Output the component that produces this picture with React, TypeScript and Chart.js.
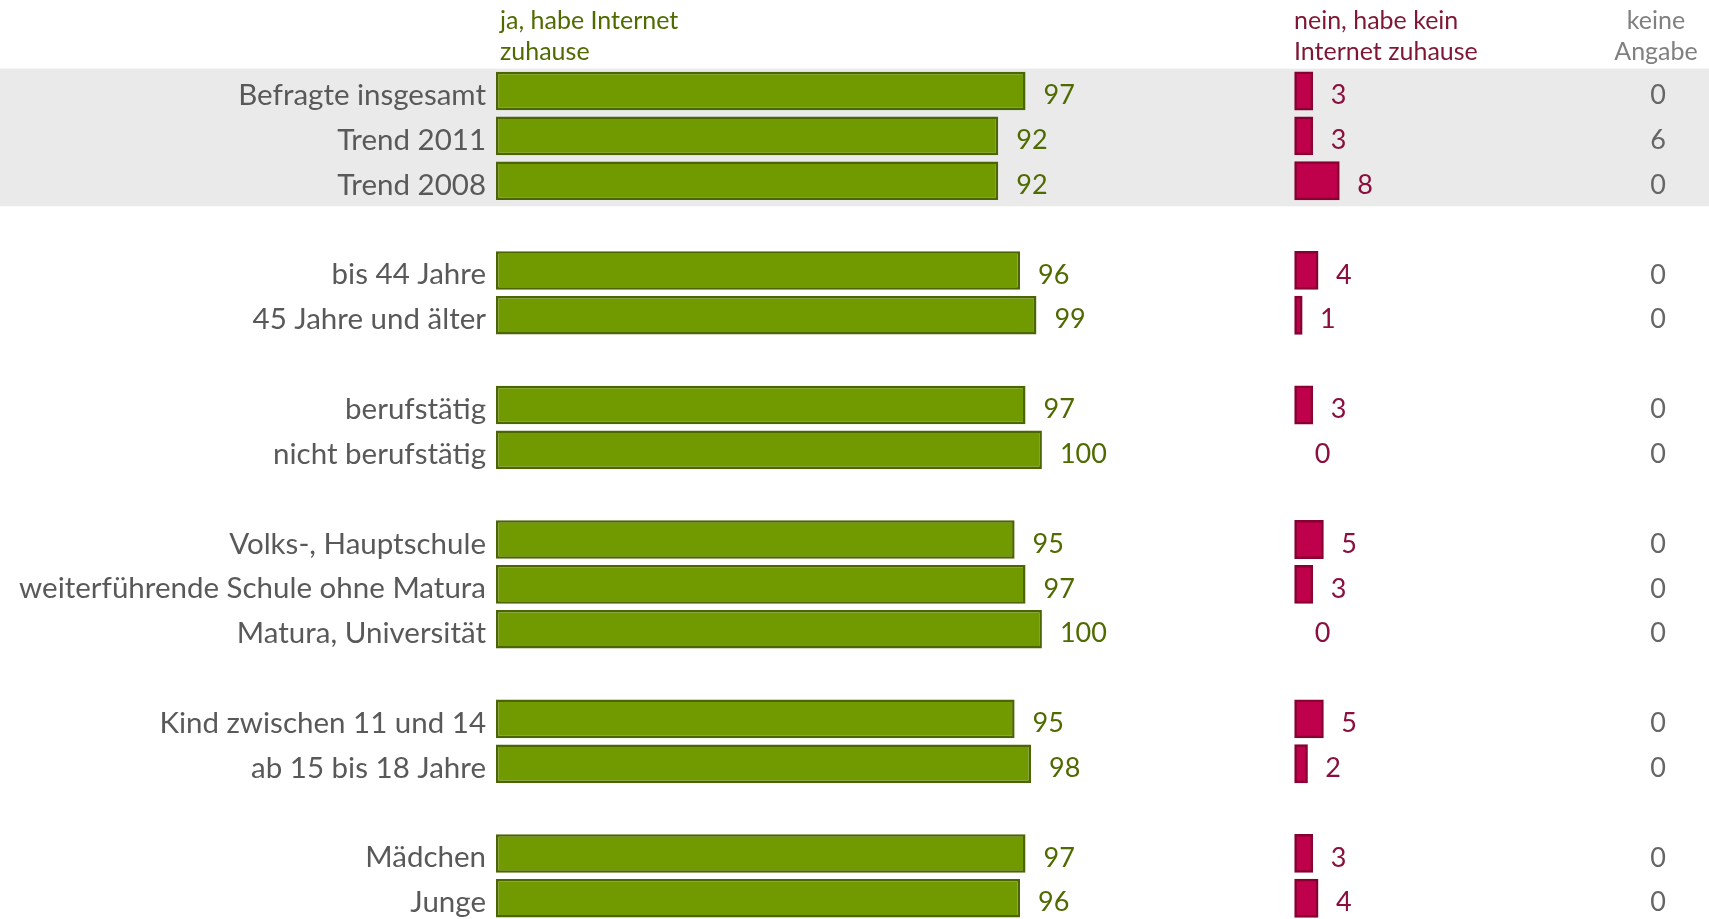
import React, { useEffect, useRef } from 'react';
import { Chart, registerables } from 'chart.js';

Chart.register(...registerables);

const categories = [
  'Befragte insgesamt', 'Trend 2011', 'Trend 2008', '',
  'bis 44 Jahre', '45 Jahre und älter', '',
  'berufstätig', 'nicht berufstätig', '',
  'Volks-, Hauptschule', 'weiterführende Schule ohne Matura', 'Matura, Universität', '',
  'Kind zwischen 11 und 14', 'ab 15 bis 18 Jahre', '',
  'Mädchen', 'Junge',
];
const jaValues = [97, 92, 92, null, 96, 99, null, 97, 100, null, 95, 97, 100, null, 95, 98, null, 97, 96];
const neinValues = [3, 3, 8, null, 4, 1, null, 3, 0, null, 5, 3, 0, null, 5, 2, null, 3, 4];
const keineValues = [0, 6, 0, null, 0, 0, null, 0, 0, null, 0, 0, 0, null, 0, 0, null, 0, 0];

const headerJa = ['ja, habe Internet', 'zuhause'];
const headerNein = ['nein, habe kein', 'Internet zuhause'];
const headerKeine = ['keine', 'Angabe'];

const FONT = 'Lato, "Open Sans", sans-serif';

export default function App() {
  const ref = useRef<HTMLCanvasElement>(null);

  useEffect(() => {
    document.body.style.margin = '0';
    const canvas = ref.current;
    if (!canvas) return;

    const bandPlugin = {
      id: 'band',
      beforeDraw(chart: any) {
        const { ctx } = chart;
        const y = chart.scales.y;
        const top = y.getPixelForValue(-0.5);
        const bottom = y.getPixelForValue(2.57);
        ctx.save();
        ctx.fillStyle = '#EAEAEA';
        ctx.fillRect(0, top, chart.width, bottom - top);
        ctx.restore();
      },
    };

    const labelPlugin = {
      id: 'labels',
      afterDatasetsDraw(chart: any) {
        const { ctx } = chart;
        const y = chart.scales.y;
        ctx.save();
        ctx.font = `27px ${FONT}`;
        ctx.textBaseline = 'middle';
        ctx.textAlign = 'left';
        const m0 = chart.getDatasetMeta(0);
        m0.data.forEach((bar: any, i: number) => {
          const v = jaValues[i];
          if (v === null) return;
          ctx.fillStyle = '#4F6B00';
          ctx.fillText(String(v), bar.x + 18, bar.y + 4.5);
        });
        const m1 = chart.getDatasetMeta(1);
        m1.data.forEach((bar: any, i: number) => {
          const v = neinValues[i];
          if (v === null) return;
          ctx.fillStyle = '#8A0F3F';
          ctx.fillText(String(v), bar.x + 19, bar.y + 4.5);
        });
        ctx.textAlign = 'center';
        ctx.fillStyle = '#666666';
        keineValues.forEach((v, i) => {
          if (v === null) return;
          ctx.fillText(String(v), 1658, y.getPixelForValue(i) + 4.5);
        });

        // headers
        ctx.font = `25px ${FONT}`;
        ctx.textAlign = 'left';
        ctx.fillStyle = '#4F6B00';
        headerJa.forEach((t, k) => ctx.fillText(t, 500, 21 + k * 31));
        ctx.fillStyle = '#7F1734';
        headerNein.forEach((t, k) => ctx.fillText(t, 1294, 21 + k * 31));
        ctx.textAlign = 'center';
        ctx.fillStyle = '#808080';
        headerKeine.forEach((t, k) => ctx.fillText(t, 1656, 21 + k * 31));
        ctx.restore();
      },
    };

    const chart = new Chart(canvas, {
      type: 'bar',
      data: {
        labels: categories,
        datasets: [
          {
            label: 'ja, habe Internet zuhause',
            data: jaValues,
            xAxisID: 'x',
            backgroundColor: '#709A00',
            borderColor: '#4B6500',
            borderWidth: 2.5,
            borderSkipped: false,
            inflateAmount: 0,
            grouped: false,
            categoryPercentage: 1,
            barPercentage: 0.86,
          } as any,
          {
            label: 'nein, habe kein Internet zuhause',
            data: neinValues,
            xAxisID: 'x2',
            backgroundColor: '#BF004B',
            borderColor: '#860032',
            borderWidth: (c: any) => (c.raw ? 2.5 : 0),
            borderSkipped: false,
            inflateAmount: (c: any) => (c.raw ? 1.5 : 0),
            grouped: false,
            categoryPercentage: 1,
            barPercentage: 0.8,
          } as any,
        ],
      },
      options: {
        indexAxis: 'y',
        responsive: false,
        animation: false,
        layout: { padding: { top: 68.6, bottom: 1.3, left: 0, right: 0 } },
        plugins: {
          legend: { display: false },
          tooltip: { enabled: false },
        },
        scales: {
          x: { display: false, min: 0, max: 222.2 },
          x2: { display: false, min: -150.9, max: 77.97 },
          y: {
            grid: { display: false, drawTicks: false },
            border: { display: false },
            ticks: {
              color: '#595959',
              font: { family: FONT, size: 29.5 },
              padding: 10,
              labelOffset: 4.5,
              autoSkip: false,
            },
            afterFit(scale: any) {
              scale.width = 496;
              scale.paddingTop = 0;
              scale.paddingBottom = 0;
            },
          },
        },
      },
      plugins: [bandPlugin, labelPlugin],
    });

    return () => chart.destroy();
  }, []);

  return (
    <div style={{ position: 'absolute', left: 0, top: 0, width: 1709, height: 919, overflow: 'hidden' }}>
      <canvas ref={ref} width={1709} height={922} style={{ display: 'block' }} />
    </div>
  );
}
